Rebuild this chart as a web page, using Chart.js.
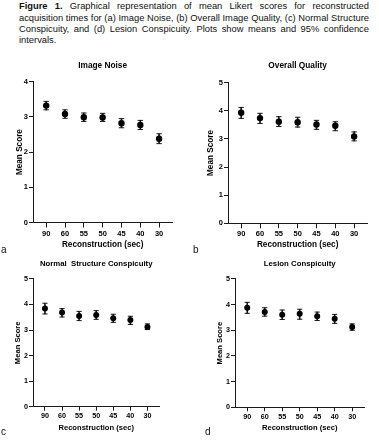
<!DOCTYPE html>
<html>
<head>
<meta charset="utf-8">
<script src="https://cdn.jsdelivr.net/npm/chart.js@4.4.1/dist/chart.umd.min.js"></script>
<style>
  html, body { margin: 0; padding: 0; background: #fff; }
  #wrap { position: relative; width: 379px; height: 440px; overflow: hidden; background: #fff; font-family: "Liberation Sans", Arial, sans-serif; color: #111; }
  #caption { position: absolute; left: 19px; top: 1.4px; width: 350px; font-size: 9.35px; line-height: 11.2px; }
  #caption div { text-align: justify; text-align-last: justify; white-space: nowrap; }
  #caption div.last { text-align-last: left; }
  canvas { position: absolute; }
  .lbl { position: absolute; font-size: 10px; line-height: 10px; color: #111; }
</style>
</head>
<body>
<div id="wrap">
  <div id="caption">
    <div><b>Figure 1.</b> Graphical representation of mean Likert scores for reconstructed</div>
    <div>acquisition times for (a) Image Noise, (b) Overall Image Quality, (c) Normal Structure</div>
    <div>Conspicuity, and (d) Lesion Conspicuity. Plots show means and 95% confidence</div>
    <div class="last">intervals.</div>
  </div>
  <canvas id="ca" width="176" height="192" style="left:0px;top:58px"></canvas>
  <canvas id="cb" width="181" height="192" style="left:190px;top:58px"></canvas>
  <canvas id="cc" width="163" height="176" style="left:0px;top:256px"></canvas>
  <canvas id="cd" width="178" height="176" style="left:190px;top:256px"></canvas>
  <div class="lbl" style="left:1px;top:245px">a</div>
  <div class="lbl" style="left:193px;top:245px">b</div>
  <div class="lbl" style="left:1px;top:427px">c</div>
  <div class="lbl" style="left:205px;top:427px">d</div>
</div>
<script>
// ---- data ----
const xLabels = ['90', '60', '55', '50', '45', '40', '30'];

const noiseMean = [3.32, 3.08, 2.99, 2.98, 2.82, 2.77, 2.38];
const noiseLow  = [3.20, 2.96, 2.87, 2.87, 2.69, 2.64, 2.24];
const noiseHigh = [3.44, 3.20, 3.11, 3.10, 2.95, 2.90, 2.52];

const qualityMean = [3.93, 3.74, 3.61, 3.59, 3.51, 3.47, 3.09];
const qualityLow  = [3.73, 3.55, 3.44, 3.42, 3.34, 3.29, 2.93];
const qualityHigh = [4.12, 3.91, 3.79, 3.77, 3.66, 3.61, 3.25];

const structureMean = [3.84, 3.69, 3.55, 3.59, 3.46, 3.39, 3.12];
const structureLow  = [3.63, 3.51, 3.37, 3.42, 3.30, 3.22, 3.02];
const structureHigh = [4.05, 3.84, 3.73, 3.76, 3.62, 3.54, 3.24];

const lesionMean = [3.88, 3.71, 3.61, 3.64, 3.55, 3.45, 3.13];
const lesionLow  = [3.66, 3.55, 3.42, 3.43, 3.38, 3.27, 3.00];
const lesionHigh = [4.09, 3.88, 3.79, 3.82, 3.71, 3.62, 3.25];

const yMaxA = 4, yMaxB = 5, yMaxC = 5, yMaxD = 5;
const titles = ['Image Noise', 'Overall Quality', 'Normal  Structure Conspicuity', 'Lesion Conspicuity'];
const xTitle = 'Reconstruction (sec)';
const yTitle = 'Mean Score';

// ---- drawing ----
const FONT = '"Liberation Sans", Arial, sans-serif';
const INK = '#1a1a1a';

function makePanel(id, title, mean, low, high, yMax, g) {
  const datasets = [
    { type: 'line', data: mean.map((v, i) => ({ x: i, y: v })), showLine: false,
      pointStyle: 'circle', pointRadius: g.dot, pointHoverRadius: g.dot,
      pointBackgroundColor: '#000', pointBorderColor: '#000', pointBorderWidth: 0, order: 0 },
    { type: 'line', data: high.map((v, i) => ({ x: i, y: v })), showLine: false,
      pointStyle: 'line', pointRadius: g.cap, pointHoverRadius: g.cap,
      pointBorderColor: INK, pointBorderWidth: 1, order: 1 },
    { type: 'line', data: low.map((v, i) => ({ x: i, y: v })), showLine: false,
      pointStyle: 'line', pointRadius: g.cap, pointHoverRadius: g.cap,
      pointBorderColor: INK, pointBorderWidth: 1, order: 1 },
    { type: 'bar', data: low.map((v, i) => ({ x: i, y: [v, high[i]] })),
      backgroundColor: INK, borderWidth: 0, barThickness: 1, order: 2 }
  ];
  return new Chart(document.getElementById(id), {
    type: 'bar',
    data: { datasets },
    options: {
      responsive: false,
      animation: false,
      events: [],
      layout: { padding: { left: 0, right: 3, top: 0, bottom: 0 } },
      plugins: {
        legend: { display: false },
        tooltip: { enabled: false },
        title: {
          display: true, text: title, fullSize: false, color: '#000',
          font: { family: FONT, size: g.titleSize, weight: 'bold' },
          padding: { top: g.titlePadTop, bottom: g.titlePadBottom }
        }
      },
      scales: {
        x: {
          type: 'linear', min: -0.7, max: 6.7, offset: false,
          afterFit: (s) => { s.height = g.xH; },
          ticks: {
            stepSize: 1, includeBounds: false, autoSkip: false, maxRotation: 0,
            color: '#000', padding: g.xTickPad,
            font: { family: FONT, size: g.tickSize, weight: 'bold' },
            callback: (v) => (Number.isInteger(v) && xLabels[v] !== undefined) ? xLabels[v] : ''
          },
          grid: { display: true, offset: false, drawOnChartArea: false, drawTicks: true,
                  tickLength: g.xTickLen, tickColor: INK, tickWidth: 1, color: INK },
          border: { display: true, color: INK, width: 1 },
          title: { display: true, text: xTitle, color: '#000',
                   font: { family: FONT, size: g.axisSize, weight: 'bold' },
                   padding: { top: 0, bottom: 0 } }
        },
        y: {
          type: 'linear', min: 0, max: yMax,
          afterFit: (s) => { s.width = g.yW; },
          ticks: { stepSize: 1, color: '#000', padding: 1,
                   font: { family: FONT, size: g.tickSize, weight: 'bold' } },
          grid: { display: true, drawOnChartArea: false, drawTicks: true,
                  tickLength: 4, tickColor: INK, tickWidth: 1, color: INK },
          border: { display: true, color: INK, width: 1 },
          title: { display: true, text: yTitle, color: '#000',
                   font: { family: FONT, size: g.axisSize, weight: 'bold' },
                   padding: { top: g.yTitlePad, bottom: 0 } }
        }
      }
    }
  });
}

makePanel('ca', titles[0], noiseMean, noiseLow, noiseHigh, yMaxA,
  { titleSize: 8.3, titlePadTop: 3.0, titlePadBottom: 10.7, axisSize: 8.2, tickSize: 7.5,
    xH: 27.5, xTickLen: 5, xTickPad: 1.5, yW: 33, yTitlePad: 20 - 4.92, dot: 3.2, cap: 2.7 });
makePanel('cb', titles[1], qualityMean, qualityLow, qualityHigh, yMaxB,
  { titleSize: 8.3, titlePadTop: 3.0, titlePadBottom: 11.7, axisSize: 8.2, tickSize: 7.5,
    xH: 26.7, xTickLen: 5, xTickPad: 1.5, yW: 38, yTitlePad: 20.7 - 4.92, dot: 3.2, cap: 2.7 });
makePanel('cc', titles[2], structureMean, structureLow, structureHigh, yMaxC,
  { titleSize: 7.8, titlePadTop: 3.3, titlePadBottom: 10.3, axisSize: 7.6, tickSize: 7.2,
    xH: 25.3, xTickLen: 4, xTickPad: 1, yW: 33, yTitlePad: 18.3 - 4.56, dot: 3.0, cap: 2.6 });
makePanel('cd', titles[3], lesionMean, lesionLow, lesionHigh, yMaxD,
  { titleSize: 7.8, titlePadTop: 3.6, titlePadBottom: 10.0, axisSize: 7.6, tickSize: 7.2,
    xH: 24.7, xTickLen: 4, xTickPad: 1, yW: 45, yTitlePad: 30 - 4.56, dot: 3.0, cap: 2.6 });
</script>
</body>
</html>
